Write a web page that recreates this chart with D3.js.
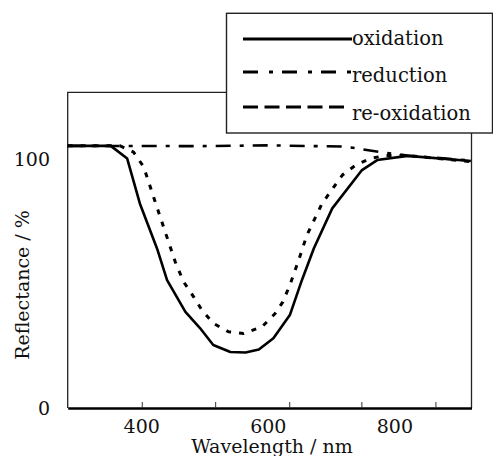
<!DOCTYPE html>
<html>
<head>
<meta charset="utf-8">
<script src="https://cdn.jsdelivr.net/npm/d3@7"></script>
<style>
body { margin:0; background:#fff; }
text { font-family: "DejaVu Serif", serif; fill:#111; }
</style>
</head>
<body>
<svg></svg>
<script>
// values (wavelength nm, reflectance %)
var oxidationNm  = [283, 351, 377, 397, 425, 440, 469, 492, 513, 540, 564, 585, 608, 634, 653, 672, 701, 748, 772, 820, 920];
var oxidationVal = [105.2, 105.2, 100.1, 82.1, 63.4, 51.3, 38.6, 32.1, 25.3, 22.5, 22.3, 23.5, 28.0, 37.3, 51.3, 64.1, 80.1, 95.5, 99.5, 101.2, 99.1];

var reductionNm  = [283, 492, 600, 722, 777, 820, 920];
var reductionVal = [105.2, 105.1, 105.4, 104.9, 102.7, 101.3, 99.3];

var reoxNm  = [283, 366, 387, 403, 420, 437, 453, 466, 482, 495, 513, 537, 561, 590, 610, 623, 635, 648, 661, 685, 717, 738, 762, 785, 820, 920];
var reoxVal = [105.2, 105.2, 102.7, 96.8, 83.7, 70.7, 58.6, 50.7, 44.6, 39.3, 34.0, 30.6, 29.9, 32.6, 37.7, 42.6, 50.0, 59.4, 69.4, 82.1, 93.5, 97.5, 100.2, 101.3, 101.3, 98.9];

var xTickMarks  = [400, 516, 633, 747, 864];
var xTickLabels = [400, 600, 800];
var yTickLabels = [0, 100];
var seriesNames = ["oxidation", "reduction", "re-oxidation"];

var screen = {width: 493, height: 456}
var plot = {left: 67.7, right: 471.5, top: 92.3, bottom: 408}

var svg = d3.select("svg")
    .attr("width", screen.width)
    .attr("height", screen.height)

var xScale = d3.scaleLinear()
    .domain([283, 921])
    .range([plot.left, plot.right]);
var yScale = d3.scaleLinear()
    .domain([0, 126.7])
    .range([plot.bottom, plot.top]);

var toPoints = function(nm, vals)
{
    return nm.map(function(d, i) { return [d, vals[i]] })
}
var line = d3.line()
    .x(function(d) { return xScale(d[0]) })
    .y(function(d) { return yScale(d[1]) });

// frame: thin left/top/right, heavy bottom axis
svg.append("path")
    .attr("d", "M" + plot.left + "," + plot.bottom + "V" + plot.top + "H" + plot.right + "V" + plot.bottom)
    .attr("fill", "none").attr("stroke", "#222").attr("stroke-width", 1.3);

// series
var styles = [
    {dash: null, width: 2.6},
    {dash: "15,9,4,9", width: 2.6},
    {dash: "5,8", width: 3}
]
var data = [toPoints(oxidationNm, oxidationVal), toPoints(reductionNm, reductionVal), toPoints(reoxNm, reoxVal)]

svg.selectAll(".series")
    .data(data)
    .enter()
    .append("path")
    .attr("class", "series")
    .attr("d", line)
    .attr("fill", "none")
    .attr("stroke", "#000")
    .attr("stroke-width", function(d, i) { return styles[i].width })
    .attr("stroke-dasharray", function(d, i) { return styles[i].dash })
    .attr("stroke-linejoin", "round");

// bottom axis (ticks point up into the plot)
var xAxis = d3.axisBottom(xScale).tickValues(xTickMarks).tickSizeInner(-6).tickSizeOuter(0).tickFormat("");
var gx = svg.append("g")
    .attr("transform", "translate(0," + plot.bottom + ")")
    .call(xAxis);
gx.select(".domain").attr("stroke", "#000").attr("stroke-width", 2.6);
gx.selectAll(".tick line").attr("stroke", "#333").attr("stroke-width", 1);

svg.selectAll(".xlab")
    .data(xTickLabels)
    .enter()
    .append("text")
    .attr("class", "xlab")
    .attr("x", function(d) { return xScale(d) })
    .attr("y", 433)
    .attr("text-anchor", "middle")
    .style("font-size", "19px")
    .text(function(d) { return d });

svg.selectAll(".ylab")
    .data(yTickLabels)
    .enter()
    .append("text")
    .attr("class", "ylab")
    .attr("x", 50)
    .attr("y", function(d) { return yScale(d) })
    .attr("dy", "0.36em")
    .attr("text-anchor", "end")
    .style("font-size", "19px")
    .text(function(d) { return d });

// axis titles
svg.append("text")
    .attr("x", 272).attr("y", 453)
    .attr("text-anchor", "middle")
    .style("font-size", "19px")
    .text("Wavelength / nm");
svg.append("text")
    .attr("transform", "translate(29,285) rotate(-90)")
    .attr("text-anchor", "middle")
    .style("font-size", "19px")
    .text("Reflectance / %");

// legend
var legend = svg.append("g")
svg.append("rect")
    .attr("x", 226.5).attr("y", 13.3)
    .attr("width", 266).attr("height", 119.7)
    .attr("fill", "#fff").attr("stroke", "#222").attr("stroke-width", 1.4);

var legendLineY = [39, 72, 107]
var legendTextY = [45, 82, 120]
var legendDash = [null, "15,11,4,9", "15,6.5"]
var legendEnd = [352, 352, 346]
seriesNames.forEach(function(name, i)
{
    svg.append("line")
        .attr("x1", 243).attr("x2", legendEnd[i])
        .attr("y1", legendLineY[i]).attr("y2", legendLineY[i])
        .attr("stroke", "#000").attr("stroke-width", 3)
        .attr("stroke-dasharray", legendDash[i]);
    svg.append("text")
        .attr("x", 352).attr("y", legendTextY[i])
        .style("font-size", "19.5px")
        .text(name);
})
</script>
</body>
</html>
